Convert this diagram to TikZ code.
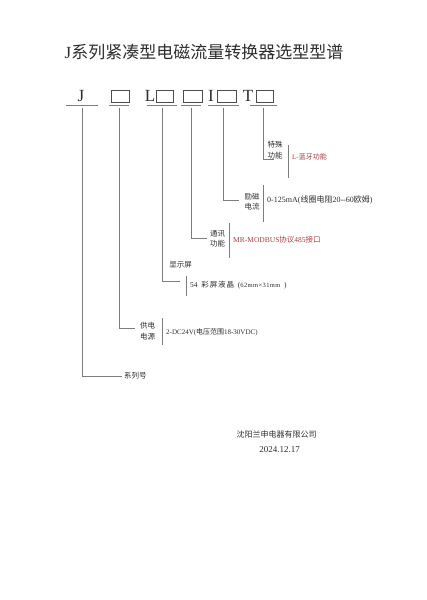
\documentclass[tikz,border=0pt]{standalone}
\usepackage{fontspec}
\setmainfont{Liberation Serif}
\newfontfamily\cjk{Noto Sans CJK SC}
\newfontfamily\cjkwide{Noto Sans CJK SC}[LetterSpace=12]
\usetikzlibrary{positioning}

\definecolor{ink}{RGB}{45,45,45}
\definecolor{lineGray}{RGB}{125,125,125}
\definecolor{inkRed}{RGB}{170,62,62}

\begin{document}
\begin{tikzpicture}[
  x=1pt, y=-1pt,
  title/.style={font=\cjk\fontsize{17}{20}\selectfont, text=ink, inner sep=0pt},
  code/.style={font=\fontsize{17}{20}\selectfont, text=ink, inner sep=0pt},
  cell/.style={draw=ink!85, line width=0.6pt, minimum height=12pt, inner sep=0pt},
  slot/.style={inner sep=0pt, minimum height=0pt},
  lab/.style={font=\cjk\fontsize{7.5}{10.5}\selectfont, text=ink, align=center, inner sep=0pt},
  desc/.style={font=\fontsize{7.5}{9}\selectfont, text=ink, anchor=west, inner ysep=0pt, inner xsep=4pt},
  rule/.style={draw=lineGray, line width=0.6pt},
  branch/.style={rule, shorten <=3pt},
  foot/.style={text=ink, inner sep=0pt}
]
\useasboundingbox (0,0) rectangle (427,600);

\node[title] (head) at (204,52) {{\rmfamily J}系列紧凑型电磁流量转换器选型型谱};

% model code row
\node[code] (cJ) at (81,96) {J};
\node[cell, minimum width=18pt] (b1) at (120,96) {};
\node[code] (cL) at (150,96) {L};
\node[cell, minimum width=17pt, right=1pt of cL] (b2) {};
\node[cell, minimum width=19pt] (b3) at (192.5,96) {};
\node[code] (cI) at (211,96) {I};
\node[cell, minimum width=19pt, right=3pt of cI] (b4) {};
\node[code] (cT) at (248,96) {T};
\node[cell, minimum width=17pt, right=3pt of cT] (b5) {};

\node[slot, minimum width=31pt] (s1) at (82,105) {};
\node[slot, minimum width=20pt] (s2) at (119,105) {};
\node[slot, minimum width=29pt] (s3) at (162,105) {};
\node[slot, minimum width=19pt] (s4) at (191,105) {};
\node[slot, minimum width=30pt] (s5) at (223.5,105) {};
\node[slot, minimum width=26pt] (s6) at (263.5,105) {};
\foreach \s in {s1,s2,s3,s4,s5,s6}
  \draw[rule] (\s.west) -- (\s.east);

% branch ends
\coordinate (e1) at (122,376);
\coordinate (e2) at (135,328);
\coordinate (e3) at (180,281);
\coordinate (e4) at (207,238);
\coordinate (e5) at (239,200);
\coordinate (e6) at (274,159);

\draw[branch] (s1) |- (e1);
\draw[branch] (s2) |- (e2);
\draw[branch] (s3) |- (e3);
\draw[branch] (s4) |- (e4);
\draw[branch] (s5) |- (e5);
\draw[branch] (s6) |- (e6);

% item labels
\node[lab, right=2pt of e1] (l1) {系列号};
\node[lab] (l2) at (147.5,331) {供电\\电源};
\node[lab] (l3) at (180.5,265) {显示屏};
\node[lab] (l4) at (217.5,238.5) {通讯\\功能};
\node[lab] (l5) at (252,201.5) {励磁\\电流};
\node[lab] (l6) at (275,150) {特殊\\功能};

% options
\node[desc, font=\fontsize{7}{9}\selectfont] (d2) at (162,332) {2-DC24V({\cjk 电压范围}18-30VDC)};
\node[desc] (d3) at (186,285) {54\ \ {\cjkwide 彩屏液晶}\ \ ({\fontsize{6.5}{8}\selectfont\addfontfeature{LetterSpace=6}62mm×31mm}\ \ )};
\node[desc, text=inkRed] (d4) at (229,240) {MR-MODBUS{\cjk 协议}485{\cjk 接口}};
\node[desc, font=\fontsize{8}{9}\selectfont] (d5) at (263,200) {0-125mA({\cjk 线圈电阻}20-{}-60{\cjk 欧姆})};
\node[desc, font=\fontsize{7}{9}\selectfont, text=inkRed] (d6) at (288,157) {L-{\cjk 蓝牙功能}};

\draw[rule] ([yshift=14pt]d2.west) -- ([yshift=-13pt]d2.west);
\draw[rule] ([yshift=9pt]d3.west) -- ([yshift=-11pt]d3.west);
\draw[rule] ([yshift=17pt]d4.west) -- ([yshift=-18pt]d4.west);
\draw[rule] ([yshift=15pt]d5.west) -- ([yshift=-22pt]d5.west);
\draw[rule] ([yshift=12pt]d6.west) -- ([yshift=-21pt]d6.west);

% footer
\node[foot, font=\cjk\fontsize{8}{10}\selectfont] (firm) at (276.5,434) {沈阳兰申电器有限公司};
\node[foot, font=\fontsize{9}{11}\selectfont] (date) at (279.5,450) {2024.12.17};

\end{tikzpicture}
\end{document}
